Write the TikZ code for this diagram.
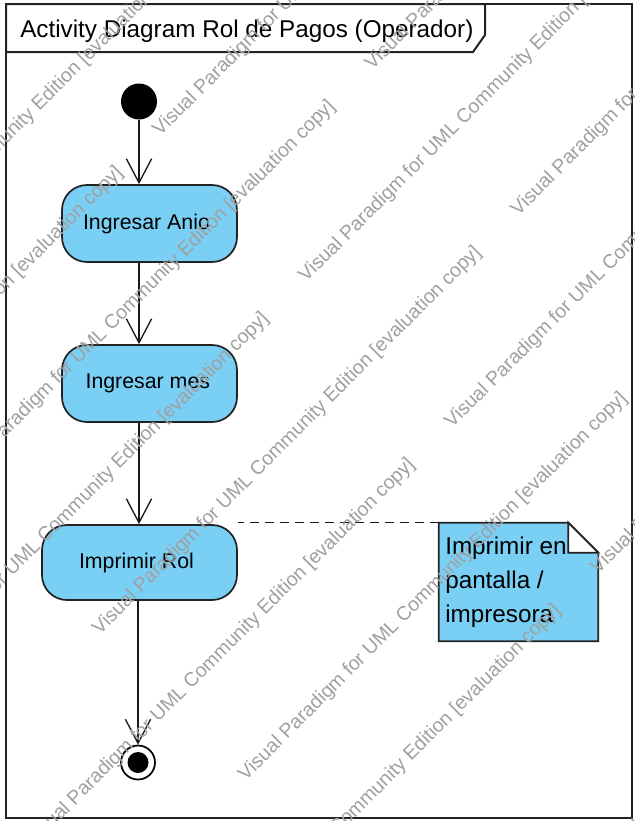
\documentclass[tikz,border=0pt]{standalone}
\usepackage{fontspec}
\setmainfont{Liberation Sans}
\usetikzlibrary{arrows.meta,calc}
\definecolor{actfill}{RGB}{122,207,245}
\definecolor{edge}{RGB}{35,35,35}
\definecolor{wmgray}{RGB}{160,160,160}
\begin{document}
\begin{tikzpicture}[x=0.75pt,y=-0.75pt,
  action/.style={draw=edge, line width=1.3pt, fill=actfill, rounded corners=18.75pt,
                 inner sep=0pt, font=\fontsize{16}{19}\selectfont},
  flow/.style={draw=black!90, line width=1pt,
               -{Straight Barb[length=18pt,width=19pt,line width=1pt]}},
  notebody/.style={draw=edge, line width=1.3pt, fill=actfill, line join=miter},
  notefold/.style={draw=edge, line width=1.3pt, fill=white, line join=miter},
  notelink/.style={draw=black!90, line width=1.1pt, dash pattern=on 6.75pt off 4.5pt},
  wm/.style={text=wmgray, font=\fontsize{14.7}{17}\selectfont, rotate=45,
             anchor=base west, inner sep=0pt},
]
\useasboundingbox (0,0) rectangle (635,821);
\fill[white] (0,0) rectangle (635,821);

% diagram frame and its name tab
\draw[edge, line width=1.5pt] (6,4) rectangle (632,818);
\draw[edge, line width=1.5pt, fill=white, line join=miter]
  (6,4) -- (485,4) -- (485,35) -- (473,52) -- (6,52) -- cycle;
\node[font=\fontsize{18.2}{22}\selectfont, anchor=base west, inner sep=0pt]
  (title) at (20,37) {Activity Diagram Rol de Pagos (Operador)};

% initial and final nodes
\node[circle, fill=black, minimum size=27pt, inner sep=0pt] (init) at (139,101.5) {};
\node[circle, draw=black, line width=1.3pt, fill=white, minimum size=25.5pt, inner sep=0pt]
  (final) at (138,762.5) {};
\node[circle, fill=black, minimum size=15.75pt, inner sep=0pt] (finaldot) at (final) {};

% actions (a little trailing space pulls each label slightly left)
\node[action, minimum width=131.25pt, minimum height=57.75pt] (a1) at (149.5,223.5)
  {Ingresar Anio\hspace*{4.5pt}};
\node[action, minimum width=131.25pt, minimum height=57.75pt] (a2) at (149.5,383.5)
  {Ingresar mes\hspace*{2.5pt}};
\node[action, minimum width=146.25pt, minimum height=56.25pt] (a3) at (139.5,562.5)
  {Imprimir Rol\hspace*{4.5pt}};

% control flows
\draw[flow] (init) -- (init |- a1.north);
\draw[flow] (init |- a1.south) -- (init |- a2.north);
\draw[flow] (init |- a2.south) -- (init |- a3.north);
\draw[flow] (final |- a3.south) -- (final);

% note with folded corner
\node[minimum width=119.25pt, minimum height=88.5pt, inner sep=0pt] (note) at (518.5,582) {};
\path[notebody] (note.north west) -- ([xshift=-22.5pt]note.north east)
  -- ([yshift=-22.5pt]note.north east) -- (note.south east) -- (note.south west) -- cycle;
\node[font=\fontsize{18.2}{25.5}\selectfont, align=left, anchor=north west, inner sep=0pt]
  (notetext) at (445,537) {Imprimir en\\pantalla /\\impresora};
\path[notefold] ([xshift=-22.5pt]note.north east)
  -- ([xshift=-22.5pt,yshift=-22.5pt]note.north east)
  -- ([yshift=-22.5pt]note.north east) -- cycle;
\draw[notelink] (note.north west) -- (note.north west -| a3.east);

% evaluation watermark, tiled at 45 degrees; the shifted rows stop at the lower edge
\begin{scope}
\clip (0,0) rectangle (635,821);
\foreach \n in {-3,...,9}{
  \foreach \k in {-3,...,1}{
    \pgfmathsetmacro\ph{mod(abs(\n),2)*139.3}
    \pgfmathsetmacro\wx{160+73*\n+418.6*\k+\ph}
    \pgfmathsetmacro\wy{137+73*\n-418.6*\k-\ph}
    \pgfmathtruncatemacro\wmskip{and(mod(abs(\n),2)==1, \wy>821)}
    \ifnum\wmskip=0
      \node[wm] (wm\n k\k) at (\wx,\wy) {Visual Paradigm for UML Community Edition [evaluation copy]};
    \fi
  }
}
\end{scope}
\end{tikzpicture}
\end{document}
